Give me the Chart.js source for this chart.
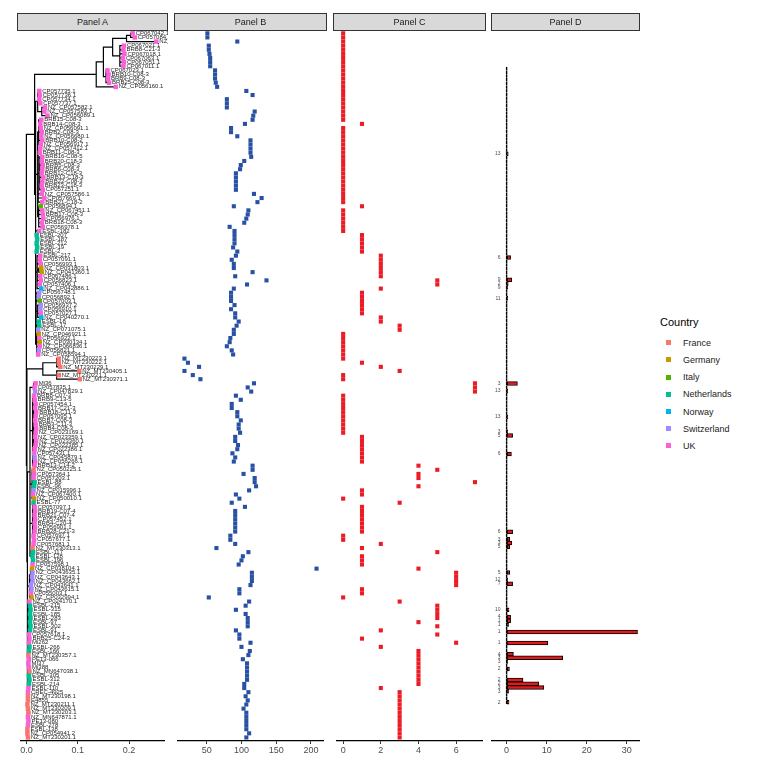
<!DOCTYPE html>
<html>
<head>
<meta charset="utf-8">
<script src="https://cdn.jsdelivr.net/npm/chart.js@4.4.0/dist/chart.umd.min.js"></script>
<style>
    body { margin: 0; background: #fff; font-family: 'Liberation Sans', Arial, sans-serif; }
    #lienzo { position: relative; width: 766px; height: 775px; overflow: hidden; }
    canvas { position: absolute; top: 0; }
    .tira { position: absolute; top: 13px; height: 18px; background: #d9d9d9; border: 1px solid #333;
            box-sizing: border-box; font-size: 9px; line-height: 16px; color: #1a1a1a; text-align: center; }
    .leyenda-titulo { position: absolute; left: 660px; top: 316px; font-size: 11px; color: #000; }
    .leyenda-item { position: absolute; left: 666px; height: 10px; font-size: 9px; line-height: 10px; color: #1a1a1a; }
    .leyenda-item span.cuadro { position: absolute; left: 0; top: 2.5px; width: 5px; height: 5px; }
    .leyenda-item span.texto { position: absolute; left: 17px; top: 0; white-space: nowrap; }
</style>
</head>
<body>
<div id="lienzo">
    <canvas id="graficoA" width="151" height="775" style="left:17px"></canvas>
    <canvas id="graficoB" width="153" height="775" style="left:174px"></canvas>
    <canvas id="graficoC" width="153" height="775" style="left:333px"></canvas>
    <canvas id="graficoD" width="149" height="775" style="left:491px"></canvas>
    <div class="tira" style="left:17px;width:151px">Panel A</div>
    <div class="tira" style="left:174px;width:153px">Panel B</div>
    <div class="tira" style="left:333px;width:153px">Panel C</div>
    <div class="tira" style="left:491px;width:149px">Panel D</div>
    <div class="leyenda-titulo">Country</div>
    <div id="leyenda"></div>
</div>
<script>
// Países y colores de la leyenda
const paises = ['France', 'Germany', 'Italy', 'Netherlands', 'Norway', 'Switzerland', 'UK'];
const codigosPais = ['F', 'G', 'I', 'N', 'O', 'S', 'U'];
const coloresPais = ['#F8766D', '#C49A00', '#53B400', '#00C094', '#00B6EB', '#A58AFF', '#FB61D7'];

// Nombres de las puntas del árbol (de arriba hacia abajo)
const nombres = [
    'CP067042.1','CP057084.1','NZ_CP057093.1','CP067021.1','BRB8-C21-3','CP067018.1','CP067063.1','CP067051.1','CP067011.1','CP067023.1',
    'BRB10-C08-3','BRB9-C08-3','BRB25-C08-3','NZ_CP056160.1','CP057735.1','CP057736.1','CP057734.1','CP057737.1','NZ_CP057582.1','NZ_CP057583.1',
    'NZ_CP056089.1','BRB15-C08-3','BRB14-C08-3','NZ_CP056091.1','BRB2-C08-3','NZ_CP056680.1','BRB10-C08-2','NZ_CP056917.1','NZ_CP057412.1','BRB11-C08-3',
    'BRB16-C08-5','BRB20-C18-3','BRB5-C08-3','BRB6-C08-3','BRB12-C18-3','BRB13-C18-3','BRB22-C08-3','BRB23-C18-3','CP057251.1','NZ_CP057586.1',
    'CP057669.1','BRB21-C18-2','CP056894.1','NZ_CP067451.1','BRB17-C08-3','CP056976.1','BRB18-C08-3','CP056978.1','ESBL-182','ESBL-207',
    'ESBL-187','ESBL-212','ESBL-19','ESBL-2','ESBL-217','CP057091.1','CP056993.1','NZ_CP031803.1','NZ_CP041360.1','CP067486.1',
    'CP056823.1','CP057406.1','NZ_CP042886.1','CP056748.1','CP056892.1','CP057003.1','CP056937.2','CP056910.1','CP057027.1','NZ_CP040270.1',
    'ESBL-18','ESBL-17','NZ_CP071075.1','NZ_CP046921.1','CP056922.1','NZ_CP030134.1','NZ_CP066836.1','CP056821.1','NZ_CP058594.1','NZ_MT230223.1',
    'NZ_MT230222.1','NZ_MT230229.1','NZ_MT230405.1','NZ_MT230221.1','NZ_MT230371.1','Mi36','CP057835.1','NZ_CP047829.1','BRB8-C07-3','BRB9-C13-5',
    'CP057454.1','BRB17-C21-3','BRB18-C11-3','CP057095.1','BRB7-C08-3','BRB3-C11-3','BRB4-C08-3','NZ_CP023169.1','NZ_CP023359.1','NZ_CP023360.1',
    'NZ_CP022385.1','NZ_CP022386.1','CP057431.1','NZ_CP045879.1','NZ_CP056266.1','BRB13-C14-2','NZ_CP050225.1','CP057364.1','CP057203.1','ESBL-88',
    'ESBL-96','NZ_CP015996.1','NZ_CP067400.1','NZ_CP050010.1','ESBL-77','CP057097.1','BRB19-C07-4','BRB21-C07-4','CP057452.1','BRB4-C20-4',
    'CP056901.1','BRB28-C21-3','CP057697.1','CP057677.1','CP057681.1','NZ_MT230313.1','ESBL-117','ESBL-128','ESBL-196','CP057598.1',
    'NZ_CP038104.1','NZ_CP043635.1','NZ_CP043643.1','NZ_CP043662.1','NZ_CP043641.1','NZ_CP043615.1','CP055003.1','NZ_CP032994.1','NZ_CP024170.1','ESBL-215',
    'ESBL-315','ESBL-185','ESBL-283','ESBL-97','ESBL-302','ESBL-91','CP057618.1','BRB25-C24-3','Mi262','ESBL-266',
    'ESBL-166','NZ_MT230357.1','PE13-066','MI37','Mi388','NZ_MN647038.1','ESBL-305','ESBL-312','ESBL-214','ESBL-110',
    'CREC-4925','NZ_MT230198.1','E4855','NZ_MT230211.1','NZ_MT230209.1','NZ_MT230203.1','NZ_MN647871.1','PE13-080','ESBL-278','ESBL-138',
    'NZ_CP054941.2','NZ_MT230201.1'
];

// País de cada punta (una letra por fila, ver codigosPais)
const paisPunta = (
    'UUUUUUUUUU' + 'UUUUUUUUUU' + 'UUUUUUUUUU' + 'UUUUUUUUUU' + 'UUIUUUUUUN' +
    'NNNNUUUGGU' + 'UUOSSISSUO' + 'NNSGUGUSUF' + 'FFFFFUUSUU' + 'UUUUUUUUUU' +
    'UUUSUUFUUN' + 'NSUGNUUUUU' + 'UUUUUFNNNU' + 'GSSSSSUGUN' + 'NNNNNNUUUN' +
    'NFUUUFNNNU' + 'UFFFFFUUUF' + 'FF'
).split('');

// Longitud de rama acumulada de cada punta (Panel A)
const profPunta = [
    0.207,0.211,0.253,0.190,0.189,0.191,0.188,0.190,0.189,0.158,
    0.160,0.159,0.161,0.174,0.025,0.026,0.025,0.027,0.036,0.035,
    0.041,0.029,0.027,0.028,0.030,0.029,0.031,0.028,0.027,0.026,
    0.031,0.030,0.032,0.031,0.030,0.033,0.031,0.030,0.032,0.030,
    0.035,0.031,0.028,0.031,0.032,0.033,0.030,0.032,0.025,0.020,
    0.021,0.020,0.021,0.020,0.027,0.026,0.028,0.029,0.030,0.027,
    0.028,0.026,0.029,0.025,0.024,0.026,0.028,0.027,0.028,0.029,
    0.024,0.025,0.023,0.024,0.025,0.026,0.026,0.024,0.023,0.063,
    0.063,0.066,0.103,0.063,0.104,0.018,0.016,0.017,0.015,0.016,
    0.018,0.017,0.019,0.018,0.017,0.018,0.019,0.018,0.017,0.019,
    0.018,0.016,0.015,0.016,0.017,0.016,0.014,0.015,0.014,0.016,
    0.015,0.014,0.013,0.015,0.014,0.016,0.017,0.016,0.017,0.016,
    0.017,0.016,0.014,0.015,0.014,0.012,0.013,0.012,0.013,0.012,
    0.011,0.012,0.011,0.012,0.009,0.010,0.009,0.010,0.006,0.007,
    0.008,0.007,0.008,0.007,0.008,0.007,0.005,0.006,0.005,0.006,
    0.005,0.004,0.005,0.004,0.005,0.006,0.005,0.006,0.005,0.004,
    0.003,0.003,0.003,0.002,0.003,0.004,0.003,0.004,0.003,0.002,
    0.002,0.003
];

// Clados internos: primera fila, última fila y profundidad del nodo
const cladoInicio = [0,0,0,0,0,0,0,3,9,14,14,18,21,21,28,30,42,48,49,54,57,63,66,73,79,79,79,82,85,85,85,88,90,106,114,115,125,130,130,130,138,139,151,155,161,164];
const cladoFin    = [171,78,13,12,8,2,1,8,12,78,20,20,47,27,41,38,47,78,53,62,58,72,69,78,171,84,81,84,171,129,87,105,100,113,124,121,129,171,137,133,150,145,160,158,171,168];
const cladoProf   = [0,0.016,0.136,0.150,0.168,0.195,0.203,0.182,0.155,0.018,0.022,0.030,0.022,0.024,0.023,0.026,0.024,0.018,0.019,0.021,0.024,0.019,0.022,0.020,
                     0.001,0.032,0.059,0.059,0.002,0.007,0.014,0.012,0.014,0.011,0.012,0.014,0.010,0.002,0.006,0.008,0.003,0.004,0.003,0.004,0.002,0.003];

// Panel B
const valoresB = [
    51,51,94,53,53,54,55,55,55,62,
    62,62,63,65,107,116,79,79,79,119,
    117,116,105,85,85,94,113,113,113,113,
    114,104,99,98,92,92,92,92,92,118,
    129,123,89,110,109,107,104,83,90,90,
    90,90,88,94,92,86,89,89,116,91,
    136,108,89,85,85,85,90,85,91,91,
    96,93,89,89,84,83,79,86,88,18,
    23,39,18,30,41,118,109,114,92,99,
    86,86,94,94,99,96,96,98,91,91,
    95,94,87,91,89,116,116,103,119,119,
    121,111,92,97,86,105,91,91,91,91,
    91,91,84,84,91,64,110,102,100,96,
    208,115,115,115,113,97,97,53,111,106,
    92,106,109,109,109,92,97,97,113,100,
    112,110,102,108,108,108,108,108,104,104,
    110,106,109,107,103,107,107,107,107,107,
    111,107
];

// Panel C
const valoresC = [
    0,0,0,0,0,0,0,0,0,0,
    0,0,0,0,0,0,0,0,0,0,
    0,0,1,0,0,0,0,0,0,0,
    0,0,0,0,0,0,0,0,0,0,
    0,0,1,0,0,0,0,0,0,1,
    1,1,1,1,2,2,2,2,2,2,
    5,5,2,1,1,1,1,1,1,2,
    2,3,3,0,0,0,0,0,0,0,
    1,2,3,0,0,7,7,7,0,0,
    0,0,0,0,0,0,0,0,1,1,
    1,1,1,1,1,4,5,4,4,7,
    4,1,1,0,3,1,1,1,1,1,
    1,1,0,0,2,1,5,1,1,1,
    4,6,6,6,6,1,1,0,3,5,
    5,5,5,4,5,2,5,1,6,2,
    4,4,4,4,4,4,4,4,4,2,
    3,3,3,3,3,3,3,3,3,3,
    3,3
];

// Panel D: barras y etiquetas numéricas
const valoresD = [
    0,0,0,0,0,0,0,0,0,0,
    0,0,0,0,0,0,0,0,0,0,
    0,0,0,0.4,0,0,0,0,0,0,
    0,0,0,0,0,0,0,0,0,0,
    0,0,0,0,0,0,0,0,0,0,
    0,1.0,0,0,0,0,0,1.3,0.4,0.3,
    0,0,0.3,0,0,0,0,0,0,0,
    0,0,0,0,0,0,0,0,0,0,
    0,0,0,0,0,2.7,0,0.3,0,0,
    0,0,0,0,0.3,0,0,0,0.3,1.5,
    0,0,0,0,1.2,0,0,0,0,0,
    0,0,0,0,0,0,0,0,0,0,
    0,0,0,0,0,1.5,0,0.8,1.3,0.8,
    0,0,0,0,0,0,0.8,0,0.3,1.5,
    0,0,0,0,0,0,0.6,0,1.0,1.0,
    0.5,0,32.7,0,0,10.3,0,0,1.7,14.0,
    0.3,0,0.7,0,0,4.1,8.0,9.3,0.5,0,
    0,0.6
];
const etiquetasD = [
    '','','','','','','','','','',
    '','','','','','','','','','',
    '','','','13','','','','','','',
    '','','','','','','','','','',
    '','','','','','','','','','',
    '','6','','','','','','9','2','9',
    '','','11','','','','','','','',
    '','','','','','','','','','',
    '','','','','','3','','13','','',
    '','','','','13','','','','3','5',
    '','','','','6','','','','','',
    '','','','','','','','','','',
    '','','','','','6','','3','3','5',
    '','','','','','','5','','12','7',
    '','','','','','','10','','4','1',
    '1','','1','','','1','','','4','3',
    '3','','2','','','2','2','3','3','',
    '','2'
];

// Marcas de los ejes x
const marcasA = [0, 0.1, 0.2];
const marcasB = [50, 100, 150, 200];
const marcasC = [0, 2, 4, 6];
const marcasD = [0, 10, 20, 30];

Chart.defaults.font.family = "'Liberation Sans', Arial, sans-serif";
Chart.defaults.animation = false;

const filaMin = -0.56;
const filaMax = 171.86;

function colorDe(codigo) {
    return coloresPais[codigosPais.indexOf(codigo)];
}

// Construye los segmentos del árbol (rectangular, estilo ggtree)
function construirArbol() {
    const clados = cladoInicio.map((a, k) => ({ a: a, b: cladoFin[k], d: cladoProf[k], hijos: [] }));
    const menorQueContiene = (a, b, excluir) => {
        let mejor = null;
        clados.forEach(o => {
            if (o === excluir) return;
            if (o.a <= a && o.b >= b && (!excluir || (o.b - o.a) > (b - a))) {
                if (!mejor || (o.b - o.a) < (mejor.b - mejor.a)) mejor = o;
            }
        });
        return mejor;
    };
    clados.forEach(c => {
        c.padre = menorQueContiene(c.a, c.b, c);
        if (c.padre) c.padre.hijos.push({ clado: c });
    });
    const padrePunta = nombres.map((n, i) => {
        const p = menorQueContiene(i, i, null);
        p.hijos.push({ fila: i });
        return p;
    });
    const yClado = (c) => {
        if (c.y !== undefined) return c.y;
        const ys = c.hijos.map(h => h.clado ? yClado(h.clado) : h.fila);
        c.ymin = Math.min(...ys);
        c.ymax = Math.max(...ys);
        c.y = (c.ymin + c.ymax) / 2;
        return c.y;
    };
    clados.forEach(yClado);

    const segmentos = [];
    const corte = () => ({ x: null, y: null });
    clados.forEach(c => {
        segmentos.push({ x: c.d, y: c.ymin }, { x: c.d, y: c.ymax }, corte());
        if (c.padre) segmentos.push({ x: c.padre.d, y: c.y }, { x: c.d, y: c.y }, corte());
    });
    nombres.forEach((n, i) => {
        segmentos.push({ x: padrePunta[i].d, y: i }, { x: profPunta[i], y: i }, corte());
    });
    return segmentos;
}

function ejes(min, max, marcas, formato) {
    return {
        x: {
            type: 'linear',
            position: 'bottom',
            min: min,
            max: max,
            afterBuildTicks: (s) => { s.ticks = marcas.map(v => ({ value: v })); },
            afterFit: (s) => { s.height = 34; s.paddingLeft = 0; s.paddingRight = 0; },
            ticks: {
                color: '#4d4d4d',
                padding: 1,
                maxRotation: 0,
                autoSkip: false,
                font: { size: 9 },
                callback: formato
            },
            grid: { drawOnChartArea: false, drawTicks: true, tickLength: 3, color: '#333', lineWidth: 1 },
            border: { display: true, color: '#000', width: 1.3 }
        },
        y: { type: 'linear', display: false, reverse: true, min: filaMin, max: filaMax }
    };
}

const opcionesBase = {
    responsive: false,
    devicePixelRatio: 1,
    layout: { padding: { top: 31, left: 0, right: 0, bottom: 0 } },
    plugins: { legend: { display: false }, tooltip: { enabled: false } }
};

// Etiquetas de las puntas en el Panel A
const etiquetasPuntas = {
    id: 'etiquetasPuntas',
    afterDatasetsDraw(chart) {
        const { ctx, scales: { x, y } } = chart;
        ctx.save();
        ctx.font = "6px 'Liberation Sans', Arial, sans-serif";
        ctx.fillStyle = '#262626';
        ctx.textBaseline = 'middle';
        nombres.forEach((nom, i) => {
            ctx.fillText(nom, x.getPixelForValue(profPunta[i]) + 3, y.getPixelForValue(i));
        });
        ctx.restore();
    }
};

// Línea del cero (barras vacías) y etiquetas del Panel D
const lineaCeroD = {
    id: 'lineaCeroD',
    afterDatasetsDraw(chart) {
        const { ctx, scales: { x, y } } = chart;
        const x0 = x.getPixelForValue(0);
        ctx.save();
        ctx.strokeStyle = '#000';
        ctx.lineWidth = 1.4;
        valoresD.forEach((v, i) => {
            const yy = y.getPixelForValue(i);
            ctx.beginPath();
            ctx.moveTo(x0, yy - 1.7);
            ctx.lineTo(x0, yy + 1.7);
            ctx.stroke();
        });
        ctx.fillStyle = '#4d4d4d';
        ctx.font = "5px 'Liberation Sans', Arial, sans-serif";
        ctx.textAlign = 'right';
        ctx.textBaseline = 'middle';
        etiquetasD.forEach((t, i) => {
            if (t) ctx.fillText(t, x0 - 6, y.getPixelForValue(i));
        });
        ctx.restore();
    }
};

function crearLeyenda() {
    const caja = document.getElementById('leyenda');
    paises.forEach((p, k) => {
        const item = document.createElement('div');
        item.className = 'leyenda-item';
        item.style.top = (337.7 + k * 17.2) + 'px';
        item.innerHTML = '<span class="cuadro" style="background:' + coloresPais[k] + '"></span><span class="texto">' + p + '</span>';
        caja.appendChild(item);
    });
}

function crearGraficos() {
    try {
        // Panel A: árbol filogenético
        new Chart(document.getElementById('graficoA'), {
            type: 'scatter',
            data: {
                datasets: [{
                    data: nombres.map((n, i) => ({ x: profPunta[i], y: i })),
                    pointStyle: 'rect',
                    pointRadius: 3.2,
                    borderWidth: 0,
                    backgroundColor: paisPunta.map(colorDe),
                    order: 1
                }, {
                    data: construirArbol(),
                    showLine: true,
                    spanGaps: false,
                    borderColor: '#000',
                    borderWidth: 1.2,
                    borderCapStyle: 'square',
                    pointRadius: 0,
                    order: 2
                }]
            },
            options: Object.assign({}, opcionesBase, {
                scales: ejes(-0.0105, 0.268, marcasA, v => v.toFixed(1))
            }),
            plugins: [etiquetasPuntas]
        });

        // Panel B
        new Chart(document.getElementById('graficoB'), {
            type: 'scatter',
            data: {
                datasets: [{
                    data: valoresB.map((v, i) => ({ x: v, y: i })),
                    pointStyle: 'rect',
                    pointRadius: 2.9,
                    borderWidth: 0,
                    backgroundColor: '#2851A3'
                }]
            },
            options: Object.assign({}, opcionesBase, {
                scales: ejes(8.7, 217.3, marcasB, v => v)
            })
        });

        // Panel C
        new Chart(document.getElementById('graficoC'), {
            type: 'scatter',
            data: {
                datasets: [{
                    data: valoresC.map((v, i) => ({ x: v, y: i })),
                    pointStyle: 'rect',
                    pointRadius: 2.9,
                    borderWidth: 0,
                    backgroundColor: '#EC1C24'
                }]
            },
            options: Object.assign({}, opcionesBase, {
                scales: ejes(-0.327, 7.374, marcasC, v => v)
            })
        });

        // Panel D: barras horizontales
        new Chart(document.getElementById('graficoD'), {
            type: 'bar',
            data: {
                datasets: [{
                    data: valoresD.map((v, i) => ({ x: v, y: i })),
                    backgroundColor: '#E31A1C',
                    borderColor: '#000',
                    borderWidth: 1,
                    borderSkipped: false,
                    barThickness: 3.8
                }]
            },
            options: Object.assign({}, opcionesBase, {
                indexAxis: 'y',
                scales: ejes(-3.9, 33.32, marcasD, v => v)
            }),
            plugins: [lineaCeroD]
        });

        crearLeyenda();
    } catch (error) {
        console.error('Error al crear los gráficos:', error);
    }
}

document.addEventListener('DOMContentLoaded', function() {
    crearGraficos();
});
</script>
</body>
</html>
